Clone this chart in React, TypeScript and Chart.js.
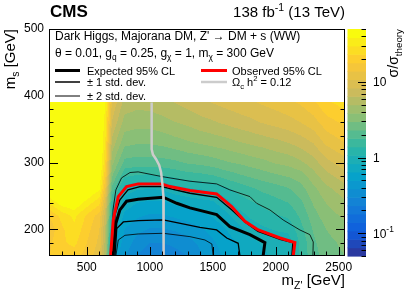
import React, { useEffect, useRef } from 'react';
import { Chart, registerables } from 'chart.js';

Chart.register(...registerables);

// ---------------- data ----------------
// grid nodes of the observed sigma/sigma_theory map
const mzpNodes = [200, 300, 400, 500, 600, 650, 700, 800, 900, 1000, 1100, 1200, 1300, 1400, 1500, 1600, 1700, 1800, 1900, 2000, 2100, 2200, 2300, 2400, 2550];
const msNodes = [160, 180, 200, 220, 240, 260, 280, 300, 330, 360, 390];

const ratioMs160 = [18, 20, 20, 16, 12, 5, 0.6, 0.4, 0.3, 0.25, 0.25, 0.27, 0.3, 0.37, 0.45, 0.52, 0.62, 0.72, 0.8, 0.87, 0.88, 1.5, 2.1, 2.6, 3.0];
const ratioMs180 = [17, 22, 25, 18, 13, 5.5, 0.7, 0.45, 0.35, 0.3, 0.3, 0.32, 0.35, 0.41, 0.48, 0.56, 0.66, 0.78, 0.86, 0.93, 0.92, 1.5, 2.2, 2.75, 3.2];
const ratioMs200 = [15, 22, 28, 20, 14, 6, 0.88, 0.5, 0.42, 0.38, 0.38, 0.4, 0.43, 0.48, 0.55, 0.64, 0.76, 0.92, 1.03, 1.1, 1.15, 1.65, 2.4, 3.0, 3.6];
const ratioMs220 = [18, 25, 32, 22, 16, 7, 1.15, 0.6, 0.52, 0.48, 0.48, 0.52, 0.56, 0.6, 0.66, 0.76, 0.95, 1.12, 1.25, 1.35, 1.45, 1.9, 2.7, 3.4, 4.1];
const ratioMs240 = [30, 45, 50, 35, 25, 9, 1.5, 0.75, 0.65, 0.62, 0.62, 0.68, 0.72, 0.76, 0.8, 0.97, 1.2, 1.35, 1.5, 1.65, 1.8, 2.2, 3.1, 3.9, 4.8];
const ratioMs260 = [60, 70, 70, 55, 40, 13, 2.1, 0.95, 0.85, 0.83, 0.85, 0.95, 1.03, 1.08, 1.12, 1.3, 1.5, 1.7, 1.9, 2.05, 2.25, 2.7, 3.6, 4.6, 5.8];
const ratioMs280 = [80, 80, 80, 70, 50, 18, 3.1, 1.45, 1.35, 1.32, 1.37, 1.48, 1.6, 1.65, 1.76, 1.98, 2.2, 2.42, 2.64, 2.86, 3.08, 3.4, 4.5, 5.9, 7.5];
const ratioMs300 = [80, 80, 80, 80, 60, 22, 4.2, 2.15, 2.05, 2.05, 2.1, 2.2, 2.4, 2.5, 2.65, 2.9, 3.1, 3.35, 3.6, 4.0, 4.2, 4.8, 5.8, 7.6, 9.8];
const ratioMs330 = [80, 80, 80, 80, 60, 28, 6.0, 3.25, 3.1, 3.1, 3.25, 3.5, 3.75, 4.0, 4.25, 4.5, 4.9, 5.25, 5.6, 6.0, 6.5, 7.3, 8.5, 11.5, 14];
const ratioMs360 = [80, 80, 80, 80, 60, 33, 8.2, 4.5, 4.3, 4.3, 4.55, 4.95, 5.3, 5.85, 6.25, 6.75, 7.3, 7.8, 8.5, 9.1, 9.75, 10.8, 12.5, 16, 19];
const ratioMs390 = [80, 80, 80, 80, 60, 38, 10.4, 5.85, 5.45, 5.6, 6.0, 6.5, 7.15, 7.8, 8.45, 9.1, 9.75, 10.4, 11.2, 12, 13, 14.5, 17, 22, 26];
const ratioRows = [ratioMs160, ratioMs180, ratioMs200, ratioMs220, ratioMs240, ratioMs260, ratioMs280, ratioMs300, ratioMs330, ratioMs360, ratioMs390];

// contours
const observedMzp = [689, 710, 750, 816, 908, 1095, 1160, 1319, 1531, 1650, 1755, 1861, 2034, 2152, 2139];
const observedMs = [160, 214, 249, 264, 268, 268, 264, 258, 253, 234, 212, 199, 187, 180, 160];
const expectedMzp = [708, 731, 763, 816, 908, 1107, 1214, 1319, 1531, 1636, 1795, 1914, 1900];
const expectedMs = [160, 209, 229, 242, 245, 248, 239, 232, 222, 204, 192, 180, 160];
const plus1Mzp = [712, 724, 763, 827, 922, 1097, 1176, 1319, 1531, 1652, 1755, 1859, 2034, 2136, 2128];
const plus1Ms = [160, 222, 244, 259, 264, 264, 260, 254, 248, 229, 211, 197, 185, 180, 160];
const plus2Mzp = [700, 708, 731, 776, 843, 908, 1095, 1319, 1531, 1636, 1795, 1848, 1954, 2059, 2192, 2271, 2298, 2295];
const plus2Ms = [160, 229, 259, 277, 285, 286, 279, 272, 268, 259, 249, 239, 229, 214, 199, 192, 181, 160];
const minus1Mzp = [724, 738, 790, 908, 1107, 1214, 1398, 1531, 1611, 1702, 1716];
const minus1Ms = [160, 201, 211, 213, 214, 210, 203, 199, 187, 179, 160];
const minus2Mzp = [731, 750, 803, 908, 1107, 1319, 1438, 1493, 1503];
const minus2Ms = [160, 184, 191, 193, 194, 189, 184, 178, 160];
const relicMzp = [1015, 1015, 1025, 1050, 1075, 1090, 1100, 1108, 1110];
const relicMs = [390, 320, 312, 305, 296, 285, 268, 250, 160];

// ticks
const xTickValues = [500, 1000, 1500, 2000, 2500];
const yTickValues = [200, 300, 400, 500];
const zTickValues = [0.1, 1, 10];
const zTickLabels = [['10', '-1'], ['1', ''], ['10', '']];

// ---------------- style ----------------
const W = 407;
const H = 292;
const FONT = '"Liberation Sans", Arial, Helvetica, sans-serif';
const N_LEVELS = 27;
const Z_MIN = 0.05;
const Z_MAX = 50;

const STOPS = [0, 0.125, 0.25, 0.375, 0.5, 0.625, 0.75, 0.875, 1];
const PR = [0.2082, 0.0592, 0.078, 0.0232, 0.1802, 0.5301, 0.8186, 0.9956, 0.9764];
const PG = [0.1664, 0.3599, 0.5041, 0.6419, 0.7178, 0.7492, 0.7328, 0.7862, 0.9832];
const PB = [0.5293, 0.8684, 0.8385, 0.7914, 0.6425, 0.4662, 0.3499, 0.1968, 0.0539];

function bird(p: number): string {
  p = Math.min(1, Math.max(0, p));
  let k = 0;
  while (k < 7 && p > STOPS[k + 1]) k++;
  const t = (p - STOPS[k]) / (STOPS[k + 1] - STOPS[k]);
  const c = (A: number[]) => Math.round(255 * (A[k] + (A[k + 1] - A[k]) * t));
  return `rgb(${c(PR)},${c(PG)},${c(PB)})`;
}
const bandColors: string[] = [];
for (let k = 0; k < N_LEVELS; k++) bandColors.push(bird((k + 0.99) / N_LEVELS));

const logRows = ratioRows.map((r) => r.map((v) => Math.log10(v)));

function locate(nodes: number[], v: number): [number, number] {
  const n = nodes.length;
  if (v <= nodes[0]) return [0, 0];
  if (v >= nodes[n - 1]) return [n - 2, 1];
  let i = 0;
  while (nodes[i + 1] < v) i++;
  return [i, (v - nodes[i]) / (nodes[i + 1] - nodes[i])];
}
function fieldLog(mz: number, ms: number): number {
  const [i, tx] = locate(mzpNodes, mz);
  const [j, ty] = locate(msNodes, ms);
  const a = logRows[j][i], b = logRows[j][i + 1];
  const c = logRows[j + 1][i], d = logRows[j + 1][i + 1];
  return (a * (1 - tx) + b * tx) * (1 - ty) + (c * (1 - tx) + d * tx) * ty;
}

type Seg = { t: string; s?: 'sub' | 'sup' };
function richWidth(ctx: CanvasRenderingContext2D, segs: Seg[], size: number, weight: string) {
  let w = 0;
  for (const sg of segs) {
    const fs = sg.s ? size * 0.7 : size;
    ctx.font = `${weight} ${fs}px ${FONT}`;
    w += ctx.measureText(sg.t).width;
  }
  return w;
}
function drawRich(ctx: CanvasRenderingContext2D, segs: Seg[], x: number, y: number, size: number, align: 'left' | 'right' = 'left', weight = 'normal') {
  const w = richWidth(ctx, segs, size, weight);
  let cx = align === 'right' ? x - w : x;
  ctx.textAlign = 'left';
  ctx.textBaseline = 'alphabetic';
  for (const sg of segs) {
    const fs = sg.s ? size * 0.7 : size;
    ctx.font = `${weight} ${fs}px ${FONT}`;
    const dy = sg.s === 'sub' ? size * 0.28 : sg.s === 'sup' ? -size * 0.42 : 0;
    ctx.fillText(sg.t, cx, y + dy);
    cx += ctx.measureText(sg.t).width;
  }
}

function drawHeat(chart: any) {
  const ctx: CanvasRenderingContext2D = chart.ctx;
  const a = chart.chartArea;
  const xs = chart.scales.x;
  const ys = chart.scales.y;
  const lz0 = Math.log10(Z_MIN);
  const lzr = Math.log10(Z_MAX) - lz0;
  const yTop = Math.max(a.top, ys.getPixelForValue(msNodes[msNodes.length - 1]));
  const left = Math.round(a.left);
  const right = Math.round(a.right);
  ctx.save();
  for (let py = Math.floor(yTop); py < Math.round(a.bottom); py++) {
    const yv = ys.getValueForPixel(py + 0.5);
    let runStart = left;
    let runColor = '';
    for (let px = left; px < right; px++) {
      const xv = xs.getValueForPixel(px + 0.5);
      const lv = fieldLog(xv, yv);
      let k = Math.floor(((lv - lz0) / lzr) * N_LEVELS);
      k = Math.max(0, Math.min(N_LEVELS - 1, k));
      const col = bandColors[k];
      if (col !== runColor) {
        if (runColor) {
          ctx.fillStyle = runColor;
          ctx.fillRect(runStart, py, px - runStart, 1);
        }
        runColor = col;
        runStart = px;
      }
    }
    ctx.fillStyle = runColor;
    ctx.fillRect(runStart, py, right - runStart, 1);
  }
  ctx.restore();
}

function drawTicksFrame(chart: any) {
  const ctx: CanvasRenderingContext2D = chart.ctx;
  const a = chart.chartArea;
  const xs = chart.scales.x;
  const ys = chart.scales.y;
  ctx.save();
  ctx.strokeStyle = '#000';
  ctx.lineWidth = 1;
  ctx.beginPath();
  for (let v = 300; v <= 2500; v += 100) {
    const px = Math.round(xs.getPixelForValue(v)) + 0.5;
    const len = v % 500 === 0 ? 9 : 4.5;
    ctx.moveTo(px, a.bottom);
    ctx.lineTo(px, a.bottom - len);
  }
  for (let v = 180; v <= 380; v += 20) {
    const py = Math.round(ys.getPixelForValue(v)) + 0.5;
    const len = v % 100 === 0 ? 9 : 4.5;
    ctx.moveTo(a.left, py);
    ctx.lineTo(a.left + len, py);
    ctx.moveTo(a.right, py);
    ctx.lineTo(a.right - len, py);
  }
  ctx.stroke();
  ctx.strokeRect(Math.round(a.left) + 0.5, Math.round(a.top) + 0.5, Math.round(a.right - a.left) - 1, Math.round(a.bottom - a.top) - 1);
  ctx.restore();
}

function drawColorbar(chart: any) {
  const ctx: CanvasRenderingContext2D = chart.ctx;
  const a = chart.chartArea;
  const zs = chart.scales.z;
  const x0 = a.right + 2.5;
  const w = 18.5;
  ctx.save();
  for (let k = 0; k < N_LEVELS; k++) {
    const lo = Z_MIN * Math.pow(Z_MAX / Z_MIN, k / N_LEVELS);
    const hi = Z_MIN * Math.pow(Z_MAX / Z_MIN, (k + 1) / N_LEVELS);
    const y1 = zs.getPixelForValue(hi);
    const y2 = zs.getPixelForValue(lo);
    ctx.fillStyle = bandColors[k];
    ctx.fillRect(x0, y1, w, y2 - y1 + 0.6);
  }
  ctx.strokeStyle = '#000';
  ctx.lineWidth = 1;
  ctx.beginPath();
  for (let d = -2; d <= 1; d++) {
    for (let m = 1; m <= 9; m++) {
      const v = m * Math.pow(10, d);
      if (v < Z_MIN * 0.999 || v > Z_MAX * 1.001) continue;
      const py = Math.round(zs.getPixelForValue(v)) + 0.5;
      const len = m === 1 ? 8 : 4.5;
      ctx.moveTo(x0 + w, py);
      ctx.lineTo(x0 + w - len, py);
    }
  }
  ctx.stroke();
  ctx.fillStyle = '#000';
  zTickValues.forEach((v, i) => {
    const py = zs.getPixelForValue(v);
    const [base, sup] = zTickLabels[i];
    const segs: Seg[] = [{ t: base }];
    if (sup) segs.push({ t: sup, s: 'sup' });
    drawRich(ctx, segs, x0 + w + 7, py + 4.3, 12);
  });
  ctx.restore();
}

function drawTexts(chart: any) {
  const ctx: CanvasRenderingContext2D = chart.ctx;
  const a = chart.chartArea;
  ctx.save();
  ctx.fillStyle = '#000';
  // header
  drawRich(ctx, [{ t: 'CMS' }], a.left + 1, 17, 17, 'left', 'bold');
  drawRich(ctx, [{ t: '138 fb' }, { t: '-1', s: 'sup' }, { t: ' (13 TeV)' }], a.right, 17, 15, 'right');
  // axis titles
  drawRich(ctx, [{ t: 'm' }, { t: "Z'", s: 'sub' }, { t: ' [GeV]' }], a.right, 285, 15, 'right');
  ctx.save();
  ctx.translate(15, a.top);
  ctx.rotate(-Math.PI / 2);
  drawRich(ctx, [{ t: 'm' }, { t: 's', s: 'sub' }, { t: ' [GeV]' }], 0, 0, 15, 'right');
  ctx.restore();
  ctx.save();
  ctx.translate(398, a.top);
  ctx.rotate(-Math.PI / 2);
  drawRich(ctx, [{ t: '\u03C3/\u03C3' }, { t: 'theory', s: 'sub' }], 0, 0, 14, 'right');
  ctx.restore();
  // legend header
  const hs = 12;
  drawRich(ctx, [{ t: "Dark Higgs, Majorana DM, Z' \u2192 DM + s (WW)" }], 55, 39.5, hs);
  drawRich(ctx, [
    { t: '\u03B8 = 0.01, g' }, { t: 'q', s: 'sub' }, { t: ' = 0.25, g' }, { t: '\u03C7', s: 'sub' },
    { t: ' = 1, m' }, { t: '\u03C7', s: 'sub' }, { t: ' = 300 GeV' },
  ], 55, 56.5, hs);
  // legend entries
  const fs = 11;
  drawRich(ctx, [{ t: 'Expected 95% CL' }], 87, 74.5, fs);
  drawRich(ctx, [{ t: 'Observed 95% CL' }], 232, 74.5, fs);
  drawRich(ctx, [{ t: '\u00B1 1 std. dev.' }], 87, 86, fs);
  drawRich(ctx, [{ t: '\u03A9' }, { t: 'c', s: 'sub' }, { t: ' h' }, { t: '2', s: 'sup' }, { t: ' = 0.12' }], 232, 86, fs);
  drawRich(ctx, [{ t: '\u00B1 2 std. dev.' }], 87, 99.5, fs);
  const sample = (x1: number, x2: number, y: number, color: string, lw: number) => {
    ctx.beginPath();
    ctx.strokeStyle = color;
    ctx.lineWidth = lw;
    ctx.moveTo(x1, y);
    ctx.lineTo(x2, y);
    ctx.stroke();
  };
  sample(55, 80, 70.5, '#000', 3);
  sample(201, 227, 70.5, '#ff0000', 3);
  sample(55, 80, 82, '#000', 1.5);
  sample(201, 227, 82, '#cccccc', 2.5);
  sample(55, 80, 96, '#000', 1);
  ctx.restore();
}

const decorPlugin = {
  id: 'cmsDecor',
  beforeDatasetsDraw(chart: any) {
    drawHeat(chart);
  },
  afterDatasetsDraw(chart: any) {
    drawTicksFrame(chart);
  },
  afterDraw(chart: any) {
    drawColorbar(chart);
    drawTexts(chart);
  },
};

export default function App() {
  const canvasRef = useRef<HTMLCanvasElement | null>(null);
  useEffect(() => {
    const canvas = canvasRef.current;
    if (!canvas) return;
    const pts = (xs: number[], ys: number[]) => xs.map((x, i) => ({ x, y: ys[i] }));
    const line = (label: string, xs: number[], ys: number[], color: string, width: number) => ({
      label,
      data: pts(xs, ys),
      showLine: true,
      borderColor: color,
      backgroundColor: color,
      borderWidth: width,
      pointRadius: 0,
      pointHoverRadius: 0,
      tension: 0,
      fill: false,
      clip: 0,
    });
    const tickFont = { family: FONT, size: 12 };
    const chart = new Chart(canvas, {
      type: 'scatter',
      data: {
        datasets: [
          line('relic', relicMzp, relicMs, '#cccccc', 2.5),
          line('observed', observedMzp, observedMs, '#ff0000', 3),
          line('expected', expectedMzp, expectedMs, '#000000', 3),
          line('plus1', plus1Mzp, plus1Ms, '#000000', 1.3),
          line('minus1', minus1Mzp, minus1Ms, '#000000', 1.3),
          line('plus2', plus2Mzp, plus2Ms, '#000000', 0.8),
          line('minus2', minus2Mzp, minus2Ms, '#000000', 0.8),
        ] as any,
      },
      options: {
        animation: false,
        responsive: true,
        maintainAspectRatio: false,
        devicePixelRatio: 1,
        events: [],
        layout: { padding: { top: 29, left: 0, right: 0, bottom: 0 } },
        plugins: { legend: { display: false }, tooltip: { enabled: false }, title: { display: false } },
        scales: {
          x: {
            type: 'linear',
            position: 'bottom',
            min: 200,
            max: 2550,
            grid: { display: false, drawTicks: false },
            border: { display: false },
            ticks: { font: tickFont, color: '#000', padding: 4, maxRotation: 0, autoSkip: false, callback: (v: any) => String(v) },
            afterBuildTicks: (s: any) => {
              s.ticks = xTickValues.map((v) => ({ value: v }));
            },
            afterFit: (s: any) => {
              s.height = 36;
            },
          },
          y: {
            type: 'linear',
            position: 'left',
            min: 160,
            max: 500,
            grid: { display: false, drawTicks: false },
            border: { display: false },
            ticks: { font: tickFont, color: '#000', padding: 5, autoSkip: false, callback: (v: any) => String(v) },
            afterBuildTicks: (s: any) => {
              s.ticks = yTickValues.map((v) => ({ value: v }));
            },
            afterFit: (s: any) => {
              s.width = 49;
            },
          },
          z: {
            type: 'logarithmic',
            position: 'right',
            min: Z_MIN,
            max: Z_MAX,
            grid: { display: false, drawTicks: false },
            border: { display: false },
            ticks: { display: false },
            afterFit: (s: any) => {
              s.width = 62;
            },
          },
        } as any,
      },
      plugins: [decorPlugin],
    });
    return () => chart.destroy();
  }, []);
  return (
    <div style={{ position: 'fixed', left: 0, top: 0, width: W, height: H, background: '#fff' }}>
      <canvas ref={canvasRef} />
    </div>
  );
}
